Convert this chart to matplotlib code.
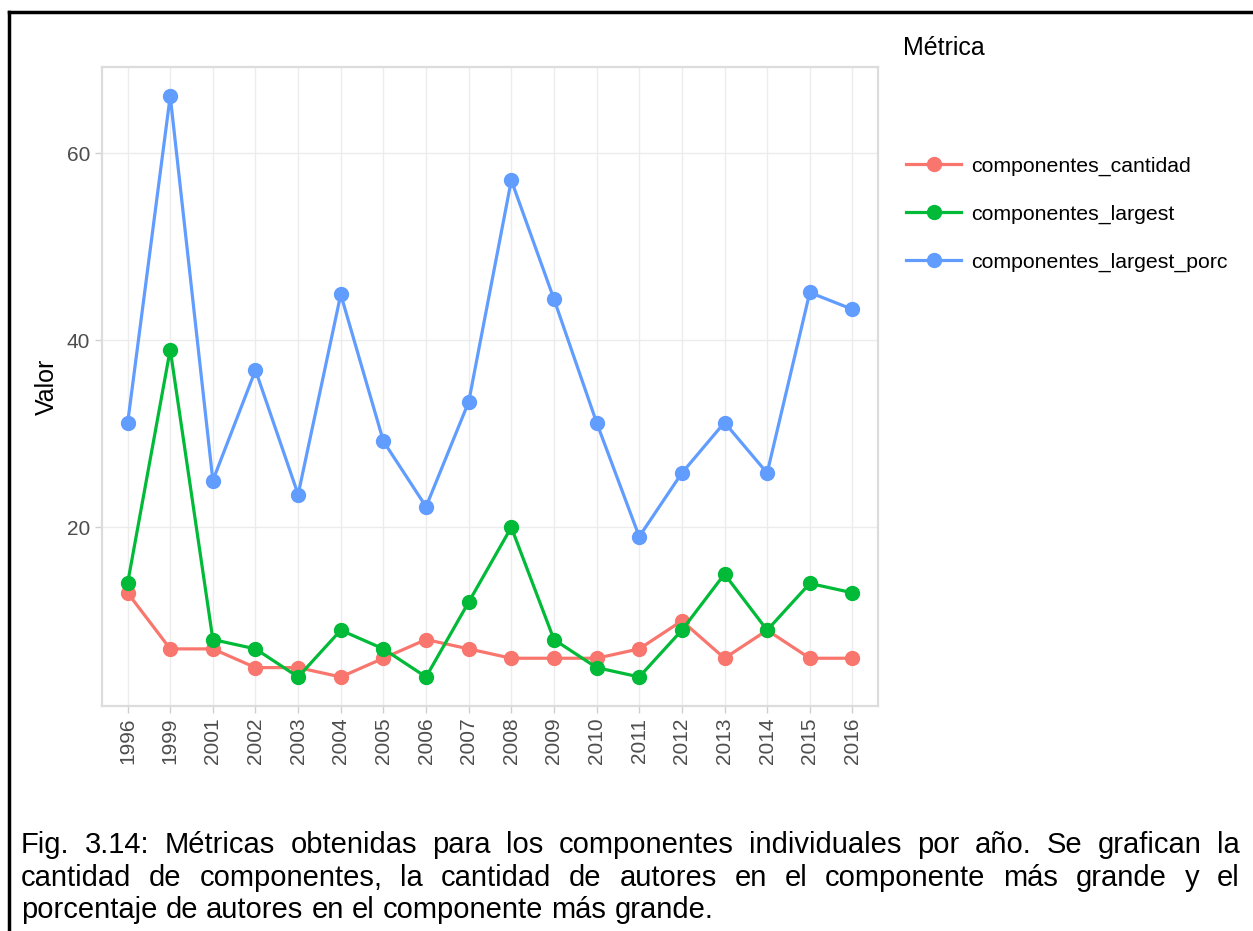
import matplotlib
matplotlib.use("Agg")
import matplotlib.pyplot as plt
from matplotlib.lines import Line2D

plt.rcParams['font.family'] = ['Liberation Sans', 'DejaVu Sans']

years = ['1996', '1999', '2001', '2002', '2003', '2004', '2005', '2006', '2007',
         '2008', '2009', '2010', '2011', '2012', '2013', '2014', '2015', '2016']
cantidad = [13, 7, 7, 5, 5, 4, 6, 8, 7, 6, 6, 6, 7, 10, 6, 9, 6, 6]
largest = [14, 39, 8, 7, 4, 9, 7, 4, 12, 20, 8, 5, 4, 9, 15, 9, 14, 13]
largest_porc = [31.1, 66.1, 25.0, 36.8, 23.5, 44.9, 29.2, 22.2, 33.4,
                57.1, 44.4, 31.2, 19.0, 25.8, 31.2, 25.8, 45.1, 43.3]

series_names = ['componentes_cantidad', 'componentes_largest', 'componentes_largest_porc']
series_colors = ['#F8766D', '#00BA38', '#619CFF']

caption_lines = [
    "Fig. 3.14: Métricas obtenidas para los componentes individuales por año. Se grafican la",
    "cantidad de componentes, la cantidad de autores en el componente más grande y el",
    "porcentaje de autores en el componente más grande.",
]

W, H = 1253, 931
fig = plt.figure(figsize=(W / 100, H / 100), dpi=100)
ax = fig.add_axes([102 / W, 1 - 706 / H, (878 - 102) / W, (706 - 67) / H])

x = list(range(len(years)))
for vals, name, col in zip([cantidad, largest, largest_porc], series_names, series_colors):
    ax.plot(x, vals, color=col, lw=2.3, marker='o', markersize=10, label=name,
            solid_joinstyle='round')

# ggplot-like scales
ymin = min(min(cantidad), min(largest))
ymax = max(largest_porc)
pad = (ymax - ymin) * 0.05
ax.set_ylim(ymin - pad, ymax + pad)
ax.set_xlim(-0.6, len(years) - 1 + 0.6)
ax.set_xticks(x)
ax.set_xticklabels(years, rotation=90)
ax.set_yticks([20, 40, 60])

ax.grid(True, color='#ececec', lw=1)
ax.set_axisbelow(True)
for s in ax.spines.values():
    s.set_color('#dcdcdc')
    s.set_linewidth(1.6)
ax.tick_params(colors='#cfcfcf', labelcolor='#4d4d4d', labelsize=15, length=5, width=1)
ax.set_ylabel('Valor', fontsize=18, color='black', labelpad=6)

# legend
fig.text(903 / W, 1 - 48 / H, 'Métrica', fontsize=18, ha='left', va='center')
fig.legend(loc='center left', bbox_to_anchor=(906 / W, 1 - 214 / H), frameon=False,
           fontsize=15.3, handlelength=2.6, handletextpad=0.45, labelspacing=1.35,
           borderpad=0, borderaxespad=0)

# border around figure
fig.add_artist(Line2D([9 / W, 9 / W], [0, 1 - 12 / H], color='black', lw=2.5,
                      transform=fig.transFigure))
fig.add_artist(Line2D([9 / W, 1], [1 - 12 / H, 1 - 12 / H], color='black', lw=2.5,
                      transform=fig.transFigure))

# justified caption
renderer = fig.canvas.get_renderer()
left, right = 21, 1240
baselines = [853, 886, 918]
cap_size = 21
for i, line in enumerate(caption_lines):
    words = line.split(' ')
    texts = [fig.text(0, 1 - baselines[i] / H, w, fontsize=cap_size, va='baseline',
                      ha='left') for w in words]
    widths = [t.get_window_extent(renderer).width for t in texts]
    if i < len(caption_lines) - 1:
        gap = (right - left - sum(widths)) / (len(words) - 1)
    else:
        gap = cap_size * 100 / 72 * 0.278
    pos = left
    for t, w in zip(texts, widths):
        t.set_x(pos / W)
        pos += w + gap

fig.savefig('out.png', dpi=100)
